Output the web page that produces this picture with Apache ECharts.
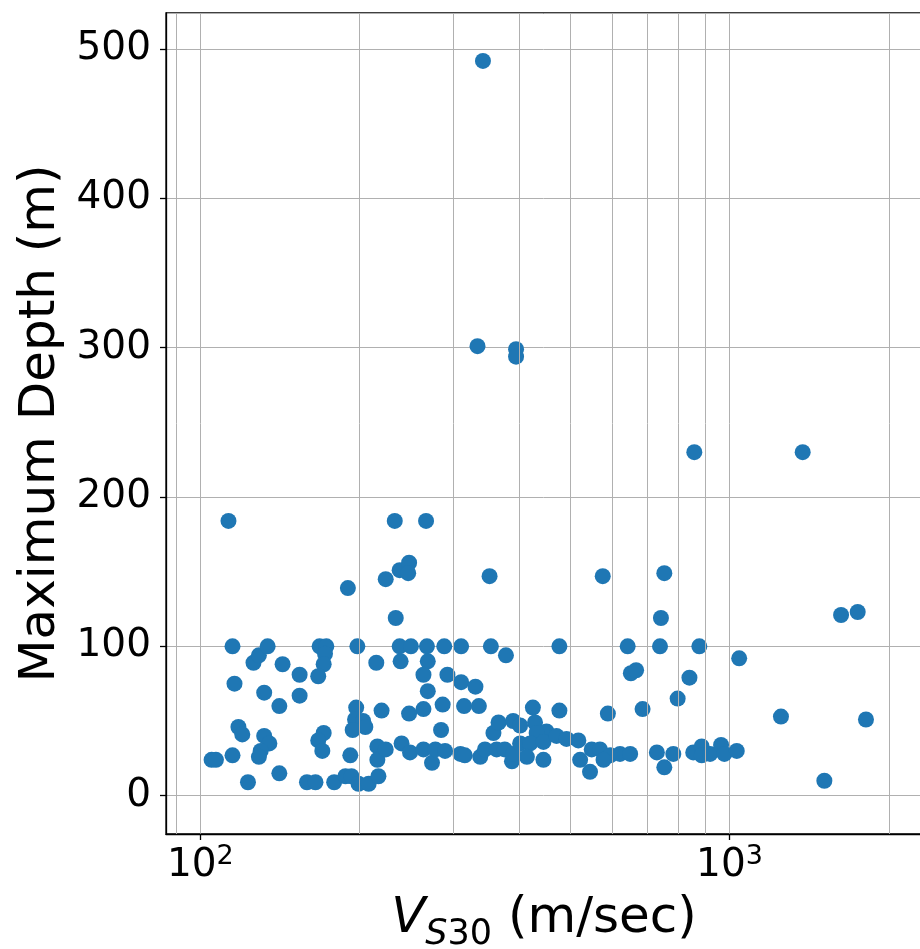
<!DOCTYPE html>
<html>
<head>
<meta charset="utf-8">
<script src="https://cdn.jsdelivr.net/npm/echarts@6/dist/echarts.min.js"></script>
<style>
  html, body { margin: 0; padding: 0; background: #fff; }
  #chart { width: 920px; height: 949px; }
</style>
</head>
<body>
<div id="chart"></div>
<script>
// Vs30 (m/sec) and max depth (m) per site
var vs30 = [
    105, 107, 113, 115, 115, 116, 118, 120, 123, 126, 129, 134, 132, 132, 135, 130, 129,
    141, 141, 143, 154, 154, 159, 165, 168, 173, 172, 171, 167, 171, 167, 170, 179, 188,
    193, 190, 198, 197, 196, 203, 205, 194, 192, 199, 208, 217, 215, 220, 216, 216, 224,
    224, 233, 238, 248, 247, 234, 238, 250, 268, 289, 311, 354, 239, 269, 264, 293, 311,
    331, 269, 287, 315, 336, 264, 248, 285, 267, 352, 378, 342, 334, 395, 395, 477, 576,
    642, 739, 877, 753, 742, 651, 666, 1043, 1625, 1747, 840, 798, 685, 1251, 1811, 1511,
    858, 1375,
    240, 249, 264, 274, 278, 290, 310, 316, 338, 345, 363, 376, 388, 390,
    358, 366, 390, 402, 425, 477, 589, 429,
    451, 432, 402, 420, 445, 471, 492, 518, 549, 569, 595, 621, 649, 414, 445, 522, 545, 578,
    729, 783, 753, 854, 886, 886, 919, 964, 978, 1032
];
var depth = [
    24, 24, 184, 100, 27, 75, 46, 41, 9, 89, 94, 100, 69, 40, 35, 30, 26,
    60, 15, 88, 81, 67, 9, 9, 100, 100, 95, 88, 80, 42, 37, 30, 9, 13,
    13, 139, 100, 59, 51, 50, 46, 44, 27, 8, 8, 13, 89, 57, 33, 24, 31,
    145, 184, 151, 156, 149, 119, 100, 100, 100, 100, 100, 100, 90, 90, 81, 81, 76,
    73, 70, 61, 60, 60, 58, 55, 44, 184, 147, 94, 492, 301, 299, 294, 100, 147,
    100, 100, 100, 149, 119, 82, 84, 92, 121, 123, 79, 65, 58, 53, 51, 10,
    230, 230,
    35, 29, 31, 22, 31, 30, 28, 27, 26, 31, 31, 31, 23, 28,
    42, 49, 50, 47, 59, 57, 55, 49,
    43, 42, 35, 35, 36, 40, 38, 37, 31, 31, 27, 28, 28, 26, 24, 24, 16, 24,
    29, 28, 19, 29, 33, 27, 28, 34, 28, 30
];
// minor log gridlines
var minorGrid = [90, 200, 300, 400, 500, 600, 700, 800, 900, 2000];

var points = vs30.map(function (v, i) { return [v, depth[i]]; });

var chart = echarts.init(document.getElementById('chart'));
var FONT = 'DejaVu Sans';
chart.setOption({
    animation: false,
    grid: {
        left: 166, top: 13, width: 756, height: 821,
        containLabel: false, outerBoundsMode: 'none',
        show: true, borderColor: '#000', borderWidth: 1.3
    },
    xAxis: {
        type: 'log',
        logBase: 10,
        min: 86.1,
        max: 2311,
        axisLine: { show: true, onZero: false, lineStyle: { color: '#000', width: 1.3 } },
        axisTick: { show: true, length: 6, lineStyle: { color: '#000', width: 1.3 } },
        splitLine: { show: true, lineStyle: { color: '#b0b0b0', width: 1 } },
        axisLabel: {
            showMinLabel: false,
            showMaxLabel: false,
            margin: 9,
            formatter: function (val) {
                var e = Math.round(Math.log10(val));
                if (Math.abs(Math.log10(val) - e) > 1e-6) return '';
                return '{b|10}{s|' + e + '}';
            },
            rich: {
                b: { fontFamily: FONT, fontSize: 39, color: '#000', lineHeight: 46 },
                s: { fontFamily: FONT, fontSize: 27, color: '#000', verticalAlign: 'top', lineHeight: 27 }
            }
        },
        name: '{v|V}{s|S}{d|30}{n| (m/sec)}',
        nameLocation: 'middle',
        nameGap: 52,
        nameTextStyle: {
            rich: {
                v: { fontFamily: FONT, fontSize: 50, fontStyle: 'italic', color: '#000', lineHeight: 66 },
                s: { fontFamily: FONT, fontSize: 35, fontStyle: 'italic', color: '#000', verticalAlign: 'bottom', lineHeight: 35 },
                d: { fontFamily: FONT, fontSize: 35, color: '#000', verticalAlign: 'bottom', lineHeight: 35 },
                n: { fontFamily: FONT, fontSize: 50, color: '#000', lineHeight: 66 }
            }
        }
    },
    yAxis: {
        type: 'value',
        min: -25.65,
        max: 524.1,
        splitNumber: 5,
        axisLine: { show: true, onZero: false, lineStyle: { color: '#000', width: 1.3 } },
        axisTick: { show: true, length: 6, lineStyle: { color: '#000', width: 1.3 } },
        splitLine: { show: true, lineStyle: { color: '#b0b0b0', width: 1 } },
        axisLabel: {
            showMinLabel: false,
            showMaxLabel: false,
            margin: 15,
            color: '#000',
            fontFamily: FONT,
            fontSize: 39,
            formatter: function (val) {
                return Math.abs(val % 100) < 1e-6 ? String(val) : '';
            }
        },
        name: 'Maximum Depth (m)',
        nameLocation: 'middle',
        nameGap: 97,
        nameTextStyle: { fontFamily: FONT, fontSize: 50, color: '#000' }
    },
    series: [
        {
            type: 'scatter',
            z: 1,
            data: [],
            silent: true,
            markLine: {
                silent: true,
                symbol: 'none',
                label: { show: false },
                lineStyle: { color: '#b0b0b0', width: 1, type: 'solid' },
                data: minorGrid.map(function (v) { return { xAxis: v }; })
            }
        },
        {
            type: 'scatter',
            z: 3,
            symbol: 'circle',
            symbolSize: 16,
            itemStyle: { color: '#1f77b4', opacity: 1 },
            data: points
        }
    ]
});
</script>
</body>
</html>
